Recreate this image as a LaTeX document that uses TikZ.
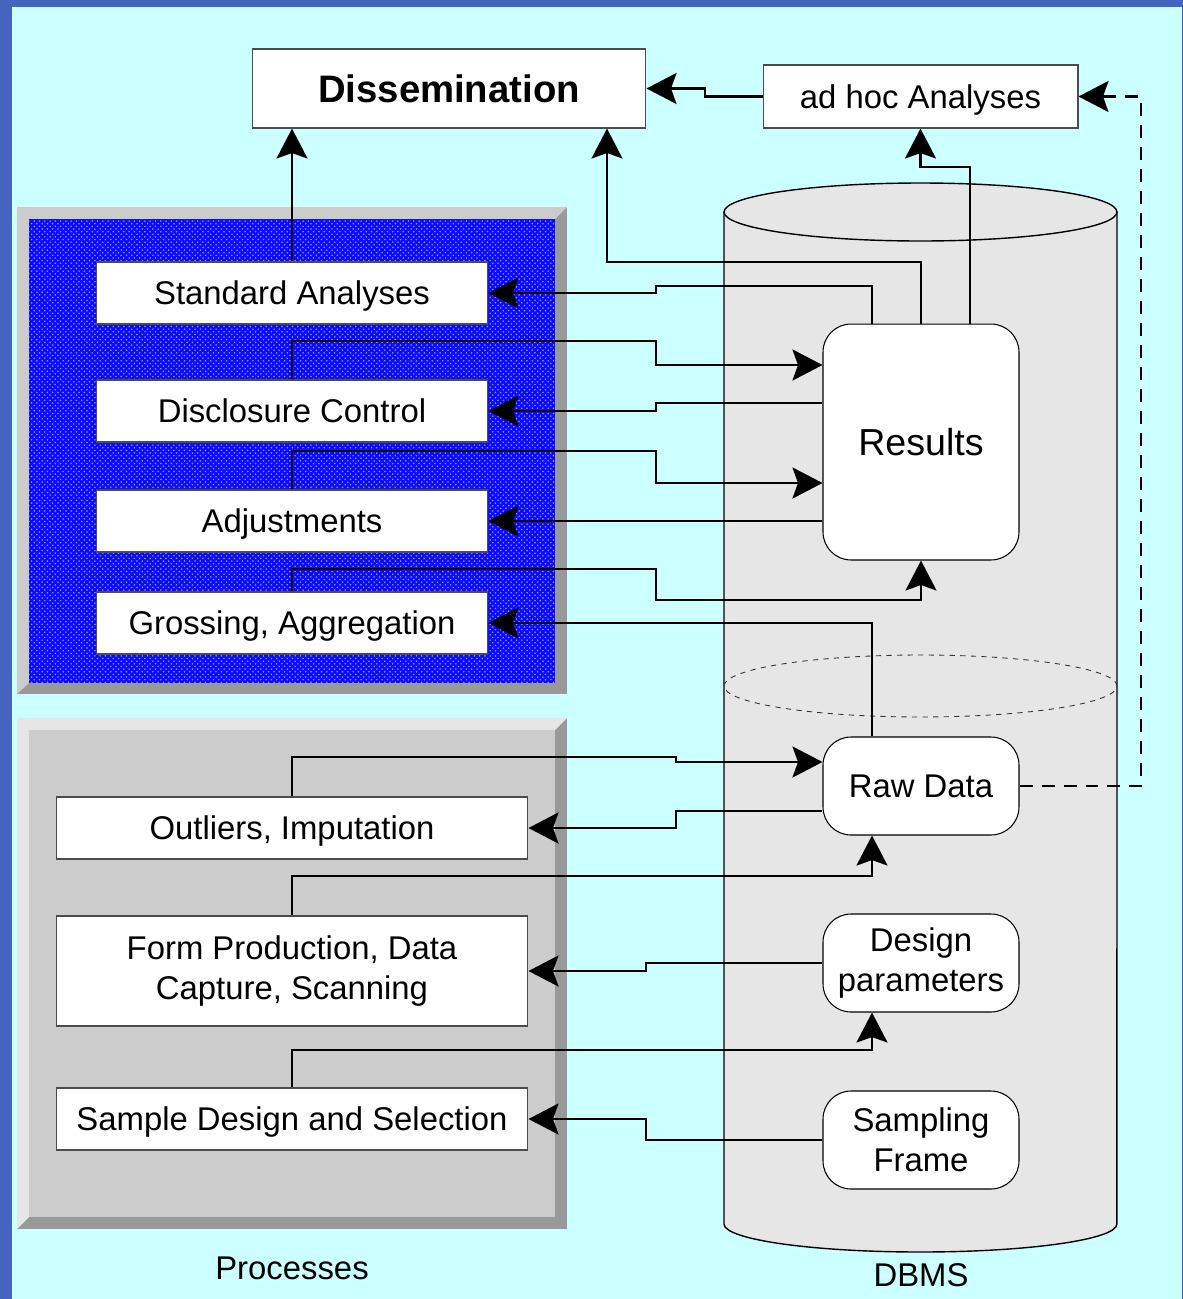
\documentclass[tikz,border=0pt]{standalone}
\usepackage{fontspec}
\setmainfont{Liberation Sans}
\usetikzlibrary{arrows.meta,patterns,calc}

\definecolor{frameblue}{RGB}{69,100,190}
\definecolor{paper}{RGB}{204,255,255}
\definecolor{deepblue}{RGB}{10,10,255}
\definecolor{dotblue}{RGB}{150,150,255}
\definecolor{bevlight}{RGB}{204,204,204}
\definecolor{bevdark}{RGB}{153,153,153}
\definecolor{panelgrey}{RGB}{204,204,204}
\definecolor{greylight}{RGB}{230,230,230}
\definecolor{drum}{RGB}{230,230,230}

\begin{document}
\begin{tikzpicture}[x=0.02cm, y=-0.02cm, font=\fontsize{18.7}{22.7}\selectfont,
    proc/.style={draw=black!70, line width=0.6pt, fill=white, inner sep=0pt, align=center},
    oneline/.style={draw=black!70, line width=0.6pt, fill=white, inner sep=0pt, text height=17.1pt, text depth=3.9pt},
    store/.style={draw=black, line width=0.6pt, fill=white, rounded corners=0.56cm, minimum width=3.92cm, minimum height=1.96cm, inner sep=0pt, align=center},
    conn/.style={line width=1.6pt, -{Stealth[length=6mm, width=6.2mm, inset=1.1mm]}}]
\useasboundingbox (0,0) rectangle (1183,1299);
\fill[frameblue] (0,0) rectangle (1183,1299);
\fill[paper] (12,7) rectangle (1182,1299);

% process panels
\fill[bevdark] (17,207) rectangle (567,694);
\fill[bevlight] (17,694) -- (17,207) -- (567,207) -- (555,219) -- (29,219) -- (29,683) -- cycle;
\fill[deepblue] (29,219) rectangle (555,683);
\fill[pattern=crosshatch dots, pattern color=dotblue] (29,219) rectangle (555,683);
\fill[bevdark] (17,718) rectangle (567,1229);
\fill[greylight] (17,1229) -- (17,718) -- (567,718) -- (555,730) -- (29,730) -- (29,1217) -- cycle;
\fill[panelgrey] (29,730) rectangle (555,1217);

% the database drum
\path[draw=black, line width=0.8pt, fill=drum] (724,212) -- (724,1224) arc[start angle=180, end angle=360, x radius=3.93cm, y radius=0.56cm] -- (1117,212) -- cycle;
\path[draw=black, line width=0.8pt, fill=drum] (920.5,212) ellipse[x radius=3.93cm, y radius=0.58cm];
\draw[black!80, dashed, line width=0.5pt] (920.5,686) ellipse[x radius=3.93cm, y radius=0.62cm];

\node[proc, minimum width=7.88cm, minimum height=1.58cm, font=\fontsize{21.8}{26}\selectfont\bfseries] (diss) at (449,88.5) {Dissemination};
\node[oneline, minimum width=6.3cm, minimum height=1.26cm] (adhoc) at (920.5,96.5) {ad hoc Analyses};
\foreach \y/\nm/\txt in {293/std/Standard Analyses, 411/dis/Disclosure Control, 521/adj/Adjustments, {623/gro/Grossing, Aggregation}}
  \node[oneline, minimum width=7.84cm, minimum height=1.24cm] (\nm) at (292,\y) {\txt};
\node[oneline, minimum width=9.44cm, minimum height=1.24cm] (out) at (292,828) {Outliers, Imputation};
\node[proc, minimum width=9.44cm, minimum height=2.2cm] (frm) at (292,971) {Form Production, Data\\Capture, Scanning};
\node[oneline, minimum width=9.44cm, minimum height=1.24cm] (sam) at (292,1119) {Sample Design and Selection};

\node[store, minimum height=4.72cm, font=\fontsize{21.4}{26}\selectfont] (res) at (921,442) {Results};
\foreach \y/\nm/\txt in {786/raw/Raw Data, 963/des/Design\\parameters, 1140/sfr/Sampling\\Frame}
  \node[store] (\nm) at (921,\y) {\txt};

\node (procs) at (292,1268) {Processes};
\node (dbms) at (921,1275) {DBMS};

\draw[conn] (std.north) -- (std.north |- diss.south);
\draw[conn] (res.north) |- (607,262) -- (607,262 |- diss.south);
\draw[conn] (970,0 |- res.north) -- (970,167) -| (adhoc.south);
\draw[conn] (adhoc.west) -- (705,0 |- adhoc.west) |- (diss.east);
\draw[conn] (872,0 |- res.north) |- (656,286) |- (std.east);
\draw[conn] (dis.north) |- (656,341) |- (res.west |- 0,365);
\draw[conn] (res.west |- 0,403) -| (656,407) |- (dis.east);
\draw[conn] (adj.north) |- (656,451) |- (res.west |- 0,483);
\draw[conn] (res.west |- adj.east) -- (adj.east);
\draw[conn] (gro.north) |- (656,569) |- (921,600) -- (res.south);
\draw[conn] (872,0 |- raw.north) |- (gro.east);
\draw[conn] (out.north) |- (676,757) |- (raw.west |- 0,762);
\draw[conn] (raw.west |- 0,811) -| (676,819) |- (out.east);
\draw[conn] (frm.north) |- (872,876) -- (872,0 |- raw.south);
\draw[conn] (des.west) -| (646,966) |- (frm.east);
\draw[conn] (sam.north) |- (872,1050) -- (872,0 |- des.south);
\draw[conn] (sfr.west) -| (646,1130) |- (sam.east);
\draw[conn, dash pattern=on 0.26cm off 0.18cm] (raw.east) -| (1141,400) |- (adhoc.east);
\end{tikzpicture}
\end{document}
